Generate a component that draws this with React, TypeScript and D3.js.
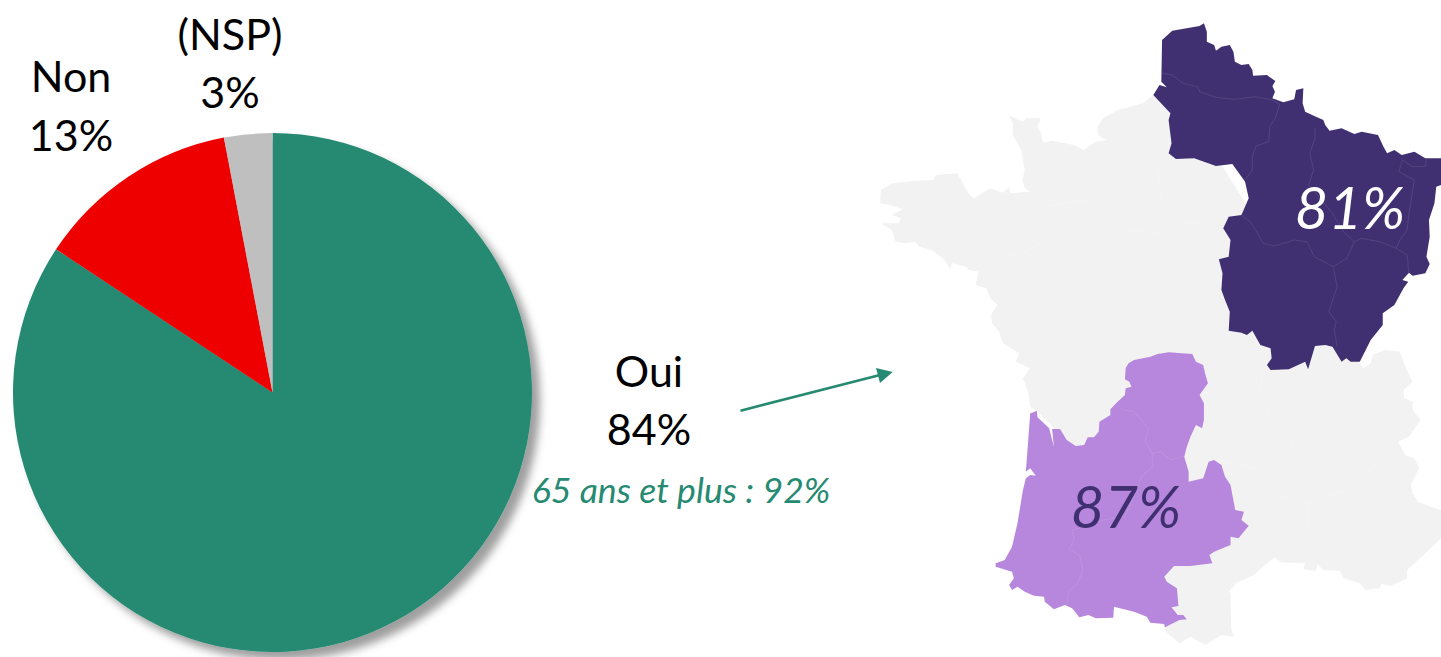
import React from "react";
import * as d3 from "d3";

// Pie data
const categories = ["Oui", "Non", "(NSP)"];
const labelShares = [84, 13, 3];
const sliceShares = [84.3, 12.7, 3];
const sliceColors = ["#268a72", "#ee0000", "#bfbfbf"];

// Map outlines (tracing units)
type P = [number, number];
const franceOutline: P[] = [
  [778,255],[750,280],[680,300],[640,325],[625,350],[625,375],[650,390],[620,395],[585,420],[560,405],[500,392],[475,398],[470,370],[460,350],[468,330],[465,323],[430,325],[420,335],[382,317],[392,340],[392,375],[415,420],[425,480],[418,510],[425,535],[440,545],[385,550],[382,532],[365,548],[330,535],[285,565],[270,550],[250,510],[240,490],[180,495],[175,510],[130,512],[60,520],[30,540],[28,580],[55,585],[90,598],[60,615],[85,625],[80,640],[30,640],[60,660],[70,695],[95,700],[125,695],[135,710],[170,720],[205,750],[220,778],[225,760],[265,770],[270,780],[298,785],[290,825],[320,835],[330,865],[350,885],[332,915],[335,940],[355,965],[365,1000],
  [410,1030],[400,1055],[440,1075],[420,1105],[435,1150],[440,1190],[458,1202],[600,1360],[700,1660],[810,1855],[815,1868],[850,1900],[880,1880],[920,1905],[935,1895],[965,1875],[1000,1880],[992,1860],[990,1750],[975,1735],[985,1745],[1005,1720],[1050,1698],[1110,1642],[1130,1657],[1195,1660],[1190,1678],[1225,1682],[1228,1663],[1245,1680],[1290,1682],[1300,1705],[1345,1720],[1360,1740],[1400,1735],[1405,1722],[1430,1728],[1475,1705],[1475,1680],[1505,1650],[1530,1625],[1568,1585],[1568,1500],[1540,1490],[1505,1475],[1490,1450],[1485,1425],[1508,1375],[1495,1345],[1470,1335],[1450,1295],[1480,1280],[1512,1230],[1490,1200],[1490,1175],[1467,1165],[1465,1140],[1490,1115],[1470,1070],[1455,1025],[1415,1020],[1380,1035],[1375,1060],[1355,1075],[1300,1000],[1100,700],[900,350],[820,300],
];
const northEastOutline: P[] = [
  [802,90],[830,62],[905,48],[917,40],[925,65],[925,95],[945,105],[950,122],[965,110],[988,105],[998,125],[1002,155],[1020,165],[1040,162],[1050,180],[1052,197],[1090,195],[1113,213],[1105,228],[1112,245],[1105,265],[1135,277],[1165,268],[1170,240],[1190,235],[1188,280],[1195,305],[1220,318],[1245,330],[1250,345],[1262,362],[1295,355],[1330,372],[1350,365],[1395,375],[1410,410],[1420,430],[1440,420],[1460,435],[1495,425],[1525,445],[1568,445],[1568,525],[1555,530],[1550,580],[1535,630],[1537,680],[1528,740],[1537,762],[1525,790],[1490,797],[1480,788],[1462,810],[1478,815],[1465,835],[1440,885],[1408,910],[1408,945],[1375,990],
  [1345,1055],[1320,1055],[1308,1045],[1295,1055],[1270,1010],[1250,1005],[1222,1008],[1203,1078],[1195,1055],[1150,1078],[1100,1080],[1090,1065],[1103,1045],[1100,1015],[1072,1005],[1050,962],[1035,975],[1020,968],[985,962],[988,905],[975,870],[965,840],[968,790],[958,748],[985,740],[990,690],[970,655],[985,620],[1020,615],[1040,565],[1030,515],[995,462],[950,468],[890,445],[840,447],[820,430],[828,400],[820,330],[825,310],[778,255],[795,225],[815,232],[800,215],
];
const southWestOutline: P[] = [
  [725,1050],[770,1040],[790,1032],[820,1027],[885,1032],[895,1055],[915,1065],[920,1090],[928,1120],[905,1155],[917,1180],[917,1230],[912,1255],[895,1245],[880,1280],[870,1310],[863,1340],[875,1385],[875,1415],[915,1405],[930,1355],[945,1350],[965,1365],[975,1400],[990,1425],[1003,1500],[1027,1505],[1020,1530],[1040,1547],[1012,1585],[990,1580],[990,1605],[945,1625],[932,1635],[940,1660],[880,1668],[835,1668],[808,1700],[815,1715],[843,1735],[847,1788],[828,1792],[845,1815],[860,1815],[870,1828],[850,1830],[810,1852],[808,1842],[770,1838],[760,1820],[725,1805],[670,1790],[668,1823],[620,1825],[600,1815],[575,1822],[555,1795],[535,1785],[505,1798],[480,1775],[478,1760],[450,1757],[425,1745],[405,1730],[390,1740],[382,1725],[395,1705],[390,1685],[345,1670],[345,1660],[370,1650],[390,1610],[405,1540],[420,1440],[428,1405],[440,1395],[455,1397],[440,1375],[428,1385],[440,1210],[445,1208],[458,1202],[460,1222],[492,1255],[505,1310],[500,1257],[522,1257],[540,1290],[565,1308],[588,1305],[598,1282],[615,1282],[628,1265],[630,1235],[660,1215],[660,1198],[680,1175],[700,1155],[702,1135],[718,1130],[712,1115],[700,1108],[702,1075],[710,1060],
];
const northEastBorders: P[][] = [
  [[802,190],[830,195],[860,220],[900,230],[905,245],[950,262],[1000,268],[1060,260],[1105,270],[1125,282],[1115,320],[1098,350],[1095,395],[1060,408],[1050,440],[1050,480],[1030,510]],
  [[1222,355],[1222,385],[1208,430],[1218,480],[1205,525],[1240,570],[1270,610],[1300,665],[1330,695],[1310,745],[1272,770],[1283,830],[1260,905],[1280,935],[1275,960],[1283,1010]],
  [[1020,615],[1048,640],[1080,700],[1110,708],[1165,690],[1200,695],[1220,740],[1272,770]],
  [[1330,695],[1350,685],[1400,695],[1445,715],[1475,735],[1480,790]],
  [[1528,445],[1525,470],[1490,470],[1462,450],[1452,485],[1495,510],[1480,610],[1475,660],[1455,690],[1445,715]],
];
const southWestBorders: P[][] = [
  [[680,1185],[695,1200],[725,1205],[765,1255],[755,1295],[775,1330],[775,1370],[745,1400],[725,1460],[700,1520],[640,1530],[590,1550],[555,1560],[560,1590],[547,1620],[575,1635],[585,1680],[570,1720],[545,1745],[540,1785]],
  [[775,1330],[800,1325],[825,1350],[863,1338]],
];
const otherBorders: P[][] = [
  [[480,590],[590,570],[640,590],[700,655],[790,670],[850,635],[915,640]],
  [[790,470],[800,570],[850,630]],
  [[345,780],[360,745],[430,725],[480,690]],
  [[660,470],[720,560]],
  [[625,820],[655,770],[700,720],[720,660]],
  [[1080,1060],[1070,1150],[1105,1230],[1170,1280],[1150,1330],[1095,1380],[1110,1450],[1200,1480],[1205,1560],[1170,1620],[1130,1650]],
  [[945,1350],[1040,1370],[1095,1380]],
  [[1200,1480],[1300,1440],[1420,1340]],
];

// Scales and layout
const mapX = d3.scaleLinear().domain([0, 1568]).range([870, 1441]);
const mapY = d3.scaleLinear().domain([0, 990]).range([10, 340]);
const mapLine = d3.line<P>().x((p) => mapX(p[0])).y((p) => mapY(p[1]));

const FONT = "Lato, Carlito, sans-serif";
const cx = 272.5;
const cy = 392.5;
const radius = 259.5;

export default function App() {
  const pie = d3.pie<number>().sort(null).startAngle(0).endAngle(2 * Math.PI)(sliceShares);
  const arc = d3.arc<d3.PieArcDatum<number>>().innerRadius(0).outerRadius(radius);
  const big = { fontFamily: FONT, fontSize: 43, fill: "#000", textAnchor: "middle" as const };
  return (
    <svg
      width={1441}
      height={657}
      style={{ position: "absolute", left: 0, top: 0, display: "block", background: "#fff" }}
    >
      <defs>
        <filter id="pieShadow" x="-10%" y="-10%" width="125%" height="125%">
          <feDropShadow dx={8} dy={8} stdDeviation={4.5} floodColor="#000" floodOpacity={0.38} />
        </filter>
      </defs>

      <g transform={`translate(${cx},${cy})`} filter="url(#pieShadow)">
        {pie.map((d, i) => (
          <path key={categories[i]} d={arc(d) ?? ""} fill={sliceColors[i]} />
        ))}
      </g>

      <text x={71} y={92} {...big}>{categories[1]}</text>
      <text x={71} y={151} {...big}>{labelShares[1]}%</text>
      <text x={230} y={50} {...big}>{categories[2]}</text>
      <text x={230} y={108} {...big}>{labelShares[2]}%</text>
      <text x={649} y={387} {...big}>{categories[0]}</text>
      <text x={649} y={445} {...big}>{labelShares[0]}%</text>
      <text x={681} y={503} fontFamily={FONT} fontSize={35.6} fontStyle="italic" fill="#268a72" textAnchor="middle">
        65 ans et plus : 92%
      </text>

      <line x1={740.5} y1={410.7} x2={880} y2={375} stroke="#268a72" strokeWidth={2.6} />
      <path d="M892.7,372 L876,368 L880,383 Z" fill="#268a72" />

      <path d={mapLine(franceOutline) + "Z"} fill="#f2f2f2" />
      {otherBorders.map((b, i) => (
        <path key={i} d={mapLine(b) ?? ""} fill="none" stroke="#f5f5f5" strokeWidth={0.7} />
      ))}
      <path d={mapLine(northEastOutline) + "Z"} fill="#403071" />
      {northEastBorders.map((b, i) => (
        <path key={i} d={mapLine(b) ?? ""} fill="none" stroke="#5f5288" strokeWidth={0.6} />
      ))}
      <path d={mapLine(southWestOutline) + "Z"} fill="#b687dc" />
      {southWestBorders.map((b, i) => (
        <path key={i} d={mapLine(b) ?? ""} fill="none" stroke="#c29ae2" strokeWidth={0.6} />
      ))}

      <text x={1350} y={229} fontFamily={FONT} fontSize={58} fontStyle="italic" fill="#fff" textAnchor="middle">81%</text>
      <text x={1126} y={528} fontFamily={FONT} fontSize={58} fontStyle="italic" fill="#403071" textAnchor="middle">87%</text>
    </svg>
  );
}
